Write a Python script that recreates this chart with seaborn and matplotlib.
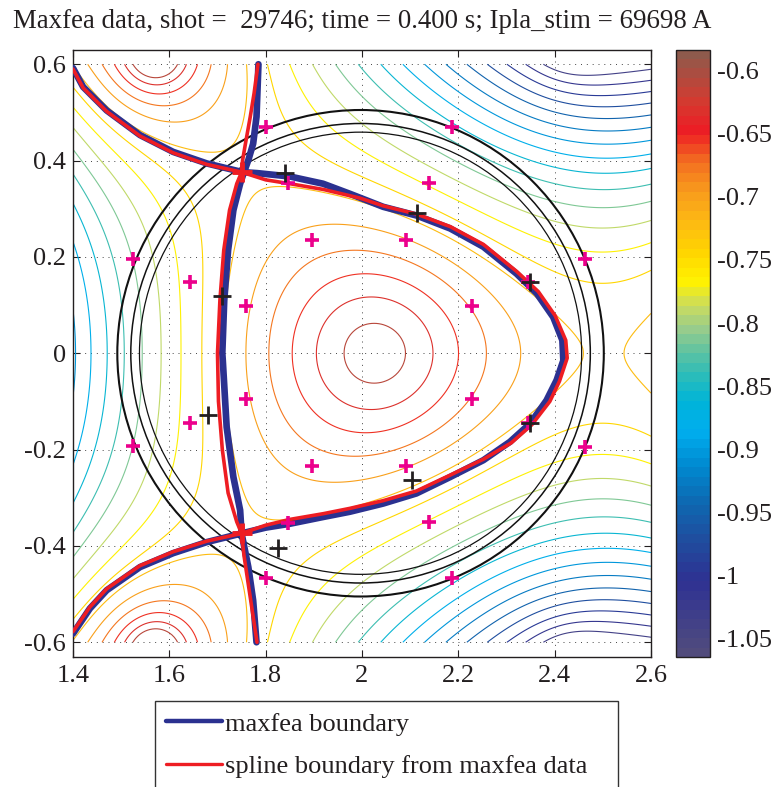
import numpy as np
import pandas as pd
import matplotlib
matplotlib.use("Agg")
import matplotlib.pyplot as plt
import seaborn as sns
from matplotlib.colors import LinearSegmentedColormap, Normalize
from matplotlib.lines import Line2D
from matplotlib.patches import Circle, Rectangle
from matplotlib.ticker import FuncFormatter, FixedLocator
from matplotlib.cm import ScalarMappable

# ---------------- text ----------------
TITLE = "Maxfea data, shot =  29746; time = 0.400 s; Ipla_stim = 69698 A"
LEGEND_LABELS = ["maxfea boundary", "spline boundary from maxfea data"]
X_TICKS = [1.4, 1.6, 1.8, 2.0, 2.2, 2.4, 2.6]
Y_TICKS = [-0.6, -0.4, -0.2, 0.0, 0.2, 0.4, 0.6]
CBAR_TICKS = [-1.05, -1.0, -0.95, -0.9, -0.85, -0.8, -0.75, -0.7, -0.65, -0.6]
PSI_MIN, PSI_MAX = -1.065, -0.583
N_LEVELS = 20

# ---------------- flux samples (up-down symmetric) ----------------
# group: 0 = plasma interior, 1 = boundary, 2 = outside
SAMPLE_R = [2.030, 1.979, 2.081, 1.896, 2.167, 1.844, 2.224, 1.799, 2.280, 1.757, 2.334, 1.716, 2.386,
            1.709, 2.412, 2.363, 2.252, 2.113, 1.975, 1.755, 1.733, 1.781, 1.785, 1.678, 1.539, 1.400,
            1.672, 1.440, 1.400, 1.400, 1.400, 1.570, 1.570, 1.570, 1.570, 1.815, 1.857, 1.907, 2.016, 2.135,
            2.425, 2.425, 2.425, 2.425, 2.425,
            2.600, 2.600, 2.600, 2.600, 2.600, 2.600, 2.600, 2.540, 2.600, 2.390, 2.459]
SAMPLE_Z = [0.0, 0.0, 0.0, 0.0, 0.0, 0.0, 0.0, 0.0, 0.0, 0.0, 0.0, 0.0, 0.0,
            0.0, 0.0, 0.124, 0.221, 0.286, 0.331, 0.376, 0.297, 0.491, 0.600, 0.394, 0.453, 0.592,
            0.0, 0.0, 0.228, 0.439, 0.553, 0.589, 0.561, 0.513, 0.478, 0.600, 0.600, 0.600, 0.600, 0.600,
            0.574, 0.556, 0.539, 0.508, 0.463,
            0.103, 0.200, 0.252, 0.297, 0.344, 0.382, 0.428, 0.068, 0.0, 0.214, 0.187]
SAMPLE_PSI = [-0.599, -0.606, -0.606, -0.629, -0.629, -0.652, -0.652, -0.675, -0.675, -0.698, -0.698, -0.721, -0.721,
              -0.726, -0.726, -0.726, -0.726, -0.726, -0.726, -0.726, -0.726, -0.726, -0.726, -0.726, -0.726, -0.726,
              -0.744, -0.881, -0.881, -0.790, -0.744, -0.606, -0.652, -0.698, -0.721, -0.744, -0.767, -0.790, -0.836, -0.881,
              -1.042, -1.019, -0.996, -0.973, -0.950,
              -0.744, -0.767, -0.790, -0.813, -0.836, -0.858, -0.881, -0.744, -0.738, -0.744, -0.744]
SAMPLE_GROUP = [0] * 13 + [1] * 13 + [2] * 30
GROUP_WEIGHT = [4.0, 3.0, 1.0]
XPOINT_R, XPOINT_Z = 1.752, 0.376
AXIS_R, AXIS_Z = 2.030, 0.0
# model sources (plasma column + coil pairs)
PLASMA_R = 2.030
PLASMA_A = [0.12, 0.35]
COIL_R = [1.570, 2.430]
COIL_Z = [0.620, 0.650]
COIL_A = [0.010, 0.010]

# ---------------- boundaries ----------------
BLUE_D_R = [1.752, 1.782, 1.850, 1.919, 1.975, 2.044, 2.113, 2.183, 2.252, 2.321, 2.363, 2.397, 2.416, 2.418,
            2.404, 2.383, 2.349, 2.307, 2.252, 2.183, 2.113, 2.044, 1.975, 1.919, 1.850, 1.800, 1.750]
BLUE_D_Z = [0.376, 0.374, 0.367, 0.352, 0.331, 0.304, 0.286, 0.259, 0.221, 0.165, 0.124, 0.075, 0.027, -0.015,
            -0.056, -0.098, -0.146, -0.184, -0.222, -0.257, -0.291, -0.312, -0.329, -0.340, -0.354, -0.362, -0.374]
BLUE_IN_R = [1.785, 1.783, 1.781, 1.774, 1.764, 1.755, 1.747, 1.733, 1.722, 1.714, 1.710, 1.711, 1.719, 1.733,
             1.747, 1.750, 1.764, 1.774, 1.781]
BLUE_IN_Z = [0.600, 0.545, 0.491, 0.435, 0.401, 0.376, 0.352, 0.297, 0.214, 0.110, 0.000, -0.015, -0.153, -0.257,
             -0.326, -0.374, -0.444, -0.513, -0.600]
BLUE_LEGU_R = [1.752, 1.678, 1.608, 1.539, 1.470, 1.421, 1.400]
BLUE_LEGU_Z = [0.376, 0.394, 0.418, 0.453, 0.504, 0.553, 0.592]
BLUE_LEGL_R = [1.750, 1.678, 1.608, 1.539, 1.470, 1.435, 1.400]
BLUE_LEGL_Z = [-0.374, -0.392, -0.415, -0.444, -0.492, -0.530, -0.582]

RED_D_R = [1.750, 1.800, 1.850, 1.920, 1.996, 2.044, 2.113, 2.183, 2.252, 2.321, 2.366, 2.401, 2.423, 2.426,
           2.410, 2.390, 2.353, 2.310, 2.252, 2.183, 2.113, 2.044, 1.975, 1.920, 1.850, 1.800, 1.750]
RED_D_Z = [0.376, 0.360, 0.352, 0.340, 0.322, 0.306, 0.289, 0.263, 0.226, 0.170, 0.128, 0.078, 0.027, -0.010,
           -0.058, -0.100, -0.148, -0.186, -0.220, -0.253, -0.286, -0.306, -0.322, -0.333, -0.345, -0.357, -0.374]
RED_IN_R = [1.784, 1.776, 1.768, 1.758, 1.752, 1.750, 1.740, 1.725, 1.713, 1.705, 1.700, 1.702, 1.710, 1.722,
            1.740, 1.750, 1.755, 1.764, 1.773, 1.782]
RED_IN_Z = [0.600, 0.540, 0.491, 0.435, 0.400, 0.376, 0.352, 0.297, 0.214, 0.110, 0.000, -0.100, -0.200, -0.290,
            -0.350, -0.374, -0.420, -0.480, -0.540, -0.600]
RED_LEGU_R = [1.750, 1.678, 1.608, 1.539, 1.470, 1.421, 1.400]
RED_LEGU_Z = [0.376, 0.392, 0.416, 0.451, 0.502, 0.551, 0.590]
RED_LEGL_R = [1.750, 1.678, 1.608, 1.539, 1.470, 1.435, 1.400]
RED_LEGL_Z = [-0.374, -0.390, -0.412, -0.441, -0.489, -0.527, -0.578]
SPLINE_XPT_R = [1.751, 1.750]
SPLINE_XPT_Z = [0.376, -0.374]

# ---------------- probes ----------------
PROBE_R = [1.801, 1.846, 1.896, 1.525, 1.643, 1.759, 2.187, 2.139, 2.091, 2.463, 2.345, 2.228,
           1.759, 1.643, 1.525, 1.896, 1.846, 1.801, 2.228, 2.091, 2.345, 2.463, 2.139, 2.187]
PROBE_Z = [0.469, 0.353, 0.235, 0.195, 0.147, 0.098, 0.469, 0.353, 0.235, 0.195, 0.147, 0.098,
           -0.095, -0.145, -0.193, -0.235, -0.353, -0.467, -0.095, -0.235, -0.145, -0.195, -0.351, -0.467]
BLACK_R = [1.840, 1.709, 2.114, 2.349, 1.680, 1.826, 2.349, 2.104]
BLACK_Z = [0.374, 0.118, 0.291, 0.147, -0.129, -0.405, -0.145, -0.264]

# ---------------- vessel circles ----------------
VESSEL_R0 = 1.997
VESSEL_RADII = [0.505, 0.477, 0.459]
VESSEL_LW = [1.5, 1.1, 0.9]

# ---------------- colormap ----------------
CMAP_STOPS = [(0.00, '#514B7C'), (0.06, '#3F3F8A'), (0.12, '#2E3192'), (0.19, '#1F4E9F'), (0.25, '#0E68B1'),
              (0.31, '#0088CF'), (0.37, '#00AEEF'), (0.42, '#00B4D8'), (0.46, '#29BCBB'), (0.50, '#5BC2A3'),
              (0.54, '#97CC8C'), (0.58, '#CBDC5E'), (0.62, '#FFF200'), (0.67, '#FFD400'), (0.72, '#FDB913'),
              (0.77, '#F89B1C'), (0.82, '#F36E21'), (0.87, '#ED1C24'), (0.92, '#D43A30'), (1.00, '#8E5A4C')]
cmap = LinearSegmentedColormap.from_list("printjet", CMAP_STOPS, N=64)


def basis(r, z):
    r = np.asarray(r, float)
    z = np.asarray(z, float)
    x = r - 2.0
    cols = [np.ones_like(r), x, x ** 2 - z ** 2, x ** 3 - 3 * x * z ** 2]
    for a in PLASMA_A:
        cols.append(-0.5 * np.log((r - PLASMA_R) ** 2 + z ** 2 + a ** 2))
    for rc, zc, ac in zip(COIL_R, COIL_Z, COIL_A):
        cols.append(-0.5 * (np.log((r - rc) ** 2 + (z - zc) ** 2 + ac ** 2)
                            + np.log((r - rc) ** 2 + (z + zc) ** 2 + ac ** 2)))
    return np.stack(cols, axis=-1)


h = 1e-4
wg = 3.0
wts = np.array([GROUP_WEIGHT[g] for g in SAMPLE_GROUP])[:, None]
rows = [wts * basis(SAMPLE_R, SAMPLE_Z),
        wg * (basis([XPOINT_R + h], [XPOINT_Z]) - basis([XPOINT_R - h], [XPOINT_Z])) / (2 * h),
        wg * (basis([XPOINT_R], [XPOINT_Z + h]) - basis([XPOINT_R], [XPOINT_Z - h])) / (2 * h),
        wg * (basis([AXIS_R + h], [AXIS_Z]) - basis([AXIS_R - h], [AXIS_Z])) / (2 * h)]
A = np.vstack(rows)
b = np.concatenate([wts[:, 0] * np.asarray(SAMPLE_PSI), [0.0, 0.0, 0.0]])
coef, *_ = np.linalg.lstsq(A, b, rcond=None)

Rg = np.linspace(1.4, 2.6, 241)
Zg = np.linspace(-0.6, 0.6, 241)
RR, ZZ = np.meshgrid(Rg, Zg)
PSI = basis(RR, ZZ) @ coef

# ---------------- figure ----------------
sns.set_theme(style="white")
plt.rcParams['font.family'] = ['Liberation Serif', 'DejaVu Serif']
plt.rcParams['text.color'] = '#231F20'
FS = 19

W, H = 774, 787
fig = plt.figure(figsize=(W / 100, H / 100), dpi=100)
fig.patch.set_facecolor('white')
ax = fig.add_axes([73 / W, 130 / H, 578 / W, 607.5 / H])
cax = fig.add_axes([676 / W, 130 / H, 34 / W, 607.5 / H])

norm = Normalize(PSI_MIN, PSI_MAX)
levels = np.linspace(PSI_MIN, PSI_MAX, N_LEVELS + 2)[1:-1]
ax.contour(RR, ZZ, PSI, levels=levels, cmap=cmap, norm=norm, linewidths=0.8, zorder=2)

for rad, lw in zip(VESSEL_RADII, VESSEL_LW):
    ax.add_patch(Circle((VESSEL_R0, 0.0), rad, fill=False, ec='#111111', lw=lw, zorder=3))


def draw(r, z, color, lw, zorder):
    df = pd.DataFrame({"R": r, "Z": z})
    sns.lineplot(data=df, x="R", y="Z", sort=False, estimator=None, color=color,
                 linewidth=lw, ax=ax, zorder=zorder, legend=False)


BLUE = '#2B3190'
RED = '#EE1D23'
for r, z in [(BLUE_D_R, BLUE_D_Z), (BLUE_IN_R, BLUE_IN_Z), (BLUE_LEGU_R, BLUE_LEGU_Z), (BLUE_LEGL_R, BLUE_LEGL_Z)]:
    draw(r, z, BLUE, 4.8, 4)
for r, z in [(RED_D_R, RED_D_Z), (RED_IN_R, RED_IN_Z), (RED_LEGU_R, RED_LEGU_Z), (RED_LEGL_R, RED_LEGL_Z)]:
    draw(r, z, RED, 2.6, 5)
ax.plot(SPLINE_XPT_R, SPLINE_XPT_Z, ls='none', marker='+', ms=15, mew=3.5, color=RED, zorder=5)
ax.plot(PROBE_R, PROBE_Z, ls='none', marker='+', ms=9.5, mew=2.6, color='#EC008C', zorder=6)
ax.plot(BLACK_R, BLACK_Z, ls='none', marker='+', ms=13, mew=2.0, color='#231F20', zorder=7)

ax.set_xlim(1.4, 2.6)
ax.set_ylim(-0.6306, 0.6306)
ax.set_xlabel("")
ax.set_ylabel("")
fmt = FuncFormatter(lambda v, p: f"{np.round(v, 6) + 0.0:g}")
ax.xaxis.set_major_locator(FixedLocator(X_TICKS))
ax.yaxis.set_major_locator(FixedLocator(Y_TICKS))
ax.xaxis.set_major_formatter(fmt)
ax.yaxis.set_major_formatter(fmt)
ax.tick_params(direction='in', length=5, width=0.8, colors='#231F20', labelsize=FS,
               top=True, right=True, bottom=True, left=True)
ax.tick_params(axis='x', pad=6)
ax.tick_params(axis='y', pad=5)
ax.grid(True, linestyle=(0, (1, 5)), color='#444444', linewidth=0.7, zorder=1)
ax.set_axisbelow(True)
for s in ax.spines.values():
    s.set_color('#231F20')
    s.set_linewidth(1.0)

cb = fig.colorbar(ScalarMappable(norm=norm, cmap=cmap), cax=cax)
cb.set_ticks(CBAR_TICKS)
cb.ax.yaxis.set_major_formatter(fmt)
cb.ax.tick_params(direction='in', length=5, width=0.8, left=True, right=True, labelsize=FS,
                  colors='#231F20', pad=5)
cb.outline.set_edgecolor('#231F20')
cb.outline.set_linewidth(1.0)

fig.text(362 / W, 1 - 28 / H, TITLE, ha='center', va='baseline', fontsize=19.4)

# legend box (runs past the bottom edge, as in the reference)
fig.patches.append(Rectangle((155 / W, -20 / H), (618 - 155) / W, (20 + 787 - 701) / H,
                             transform=fig.transFigure, facecolor='white', edgecolor='#333333',
                             linewidth=1.0, zorder=1))
handles = [Line2D([], [], color=BLUE, lw=3.2), Line2D([], [], color=RED, lw=2.4)]
leg = fig.legend(handles, LEGEND_LABELS, loc='upper left', bbox_to_anchor=(155 / W, 1 - 701 / H),
                 bbox_transform=fig.transFigure, frameon=False, fontsize=FS, handlelength=2.1,
                 handletextpad=0.15, borderpad=0.42, labelspacing=0.72, borderaxespad=0)
leg.set_zorder(5)

fig.savefig("out.png", dpi=100, facecolor='white')
